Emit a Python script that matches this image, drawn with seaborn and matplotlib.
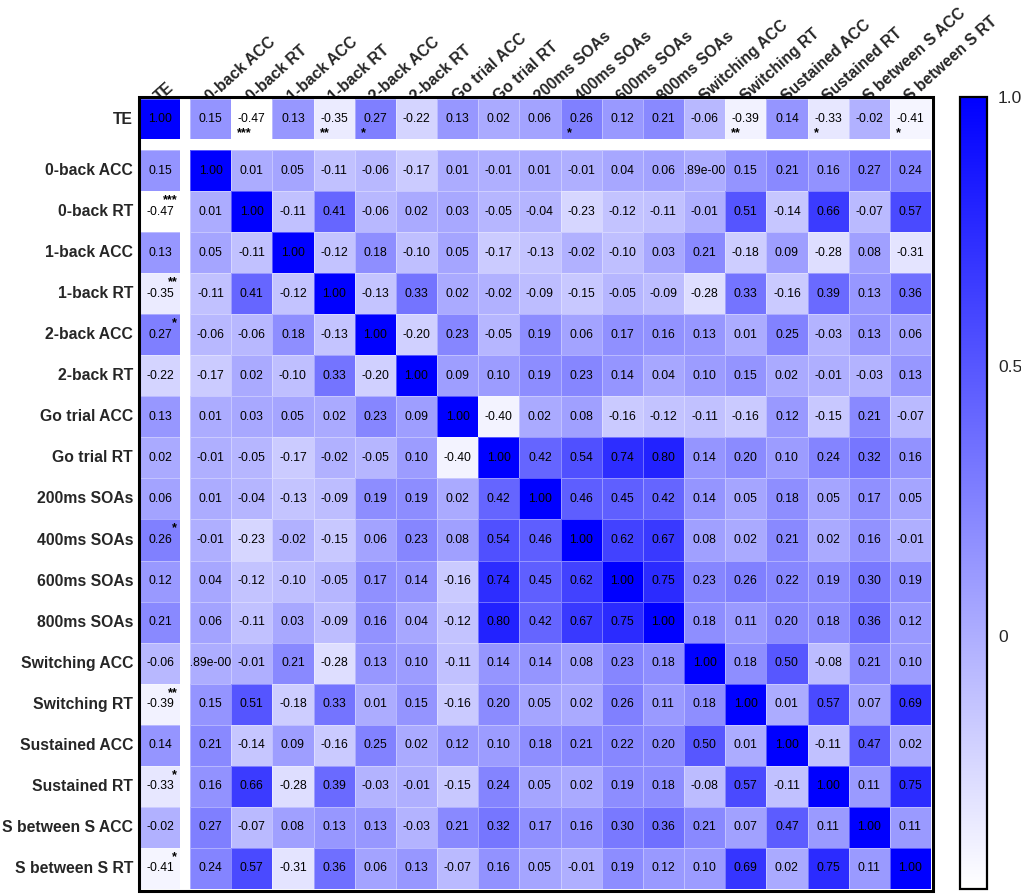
import numpy as np
import matplotlib
matplotlib.use("Agg")
import matplotlib.pyplot as plt
import seaborn as sns
from matplotlib.colors import LinearSegmentedColormap
from matplotlib.patches import Rectangle
from matplotlib.transforms import Bbox, TransformedBbox

labels = [
    "TE", "0-back ACC", "0-back RT", "1-back ACC", "1-back RT", "2-back ACC",
    "2-back RT", "Go trial ACC", "Go trial RT", "200ms SOAs", "400ms SOAs",
    "600ms SOAs", "800ms SOAs", "Switching ACC", "Switching RT",
    "Sustained ACC", "Sustained RT", "S between S ACC", "S between S RT",
]

# one list per row of the correlation matrix
r_te = [1.00, 0.15, -0.47, 0.13, -0.35, 0.27, -0.22, 0.13, 0.02, 0.06, 0.26, 0.12, 0.21, -0.06, -0.39, 0.14, -0.33, -0.02, -0.41]
r_0acc = [0.15, 1.00, 0.01, 0.05, -0.11, -0.06, -0.17, 0.01, -0.01, 0.01, -0.01, 0.04, 0.06, 0.00289, 0.15, 0.21, 0.16, 0.27, 0.24]
r_0rt = [-0.47, 0.01, 1.00, -0.11, 0.41, -0.06, 0.02, 0.03, -0.05, -0.04, -0.23, -0.12, -0.11, -0.01, 0.51, -0.14, 0.66, -0.07, 0.57]
r_1acc = [0.13, 0.05, -0.11, 1.00, -0.12, 0.18, -0.10, 0.05, -0.17, -0.13, -0.02, -0.10, 0.03, 0.21, -0.18, 0.09, -0.28, 0.08, -0.31]
r_1rt = [-0.35, -0.11, 0.41, -0.12, 1.00, -0.13, 0.33, 0.02, -0.02, -0.09, -0.15, -0.05, -0.09, -0.28, 0.33, -0.16, 0.39, 0.13, 0.36]
r_2acc = [0.27, -0.06, -0.06, 0.18, -0.13, 1.00, -0.20, 0.23, -0.05, 0.19, 0.06, 0.17, 0.16, 0.13, 0.01, 0.25, -0.03, 0.13, 0.06]
r_2rt = [-0.22, -0.17, 0.02, -0.10, 0.33, -0.20, 1.00, 0.09, 0.10, 0.19, 0.23, 0.14, 0.04, 0.10, 0.15, 0.02, -0.01, -0.03, 0.13]
r_goacc = [0.13, 0.01, 0.03, 0.05, 0.02, 0.23, 0.09, 1.00, -0.40, 0.02, 0.08, -0.16, -0.12, -0.11, -0.16, 0.12, -0.15, 0.21, -0.07]
r_gort = [0.02, -0.01, -0.05, -0.17, -0.02, -0.05, 0.10, -0.40, 1.00, 0.42, 0.54, 0.74, 0.80, 0.14, 0.20, 0.10, 0.24, 0.32, 0.16]
r_200 = [0.06, 0.01, -0.04, -0.13, -0.09, 0.19, 0.19, 0.02, 0.42, 1.00, 0.46, 0.45, 0.42, 0.14, 0.05, 0.18, 0.05, 0.17, 0.05]
r_400 = [0.26, -0.01, -0.23, -0.02, -0.15, 0.06, 0.23, 0.08, 0.54, 0.46, 1.00, 0.62, 0.67, 0.08, 0.02, 0.21, 0.02, 0.16, -0.01]
r_600 = [0.12, 0.04, -0.12, -0.10, -0.05, 0.17, 0.14, -0.16, 0.74, 0.45, 0.62, 1.00, 0.75, 0.23, 0.26, 0.22, 0.19, 0.30, 0.19]
r_800 = [0.21, 0.06, -0.11, 0.03, -0.09, 0.16, 0.04, -0.12, 0.80, 0.42, 0.67, 0.75, 1.00, 0.18, 0.11, 0.20, 0.18, 0.36, 0.12]
r_swacc = [-0.06, 0.00289, -0.01, 0.21, -0.28, 0.13, 0.10, -0.11, 0.14, 0.14, 0.08, 0.23, 0.18, 1.00, 0.18, 0.50, -0.08, 0.21, 0.10]
r_swrt = [-0.39, 0.15, 0.51, -0.18, 0.33, 0.01, 0.15, -0.16, 0.20, 0.05, 0.02, 0.26, 0.11, 0.18, 1.00, 0.01, 0.57, 0.07, 0.69]
r_suacc = [0.14, 0.21, -0.14, 0.09, -0.16, 0.25, 0.02, 0.12, 0.10, 0.18, 0.21, 0.22, 0.20, 0.50, 0.01, 1.00, -0.11, 0.47, 0.02]
r_surt = [-0.33, 0.16, 0.66, -0.28, 0.39, -0.03, -0.01, -0.15, 0.24, 0.05, 0.02, 0.19, 0.18, -0.08, 0.57, -0.11, 1.00, 0.11, 0.75]
r_sbacc = [-0.02, 0.27, -0.07, 0.08, 0.13, 0.13, -0.03, 0.21, 0.32, 0.17, 0.16, 0.30, 0.36, 0.21, 0.07, 0.47, 0.11, 1.00, 0.11]
r_sbrt = [-0.41, 0.24, 0.57, -0.31, 0.36, 0.06, 0.13, -0.07, 0.16, 0.05, -0.01, 0.19, 0.12, 0.10, 0.69, 0.02, 0.75, 0.11, 1.00]

# significance of the correlation with TE
te_stars = ["", "", "***", "", "**", "*", "", "", "", "", "*", "", "", "", "**", "", "*", "", "*"]

corr = np.array([r_te, r_0acc, r_0rt, r_1acc, r_1rt, r_2acc, r_2rt, r_goacc, r_gort,
                 r_200, r_400, r_600, r_800, r_swacc, r_swrt, r_suacc, r_surt,
                 r_sbacc, r_sbrt])


def fmt_val(v):
    if v != 0 and abs(v) < 0.005:
        m, e = f"{v:.2e}".split("e")
        return f"{m}e{e[0]}{int(e[1:]):03d}"
    return f"{v:.2f}"


annot = np.vectorize(fmt_val)(corr)

sns.set_style("white")
plt.rcParams["font.family"] = ["Liberation Sans", "DejaVu Sans"]

cmap = LinearSegmentedColormap.from_list("white_blue", ["#ffffff", "#0000ff"])
vmin, vmax = -0.47, 1.0

W, H = 1021, 896
fig = plt.figure(figsize=(W / 100, H / 100), dpi=100)


def px_axes(x0, y0, x1, y1):
    return fig.add_axes([x0 / W, 1 - y1 / H, (x1 - x0) / W, (y1 - y0) / H])


ax_cc = px_axes(140, 99, 180, 139)
ax_row = px_axes(190, 99, 931, 139)
ax_col = px_axes(140, 150, 180, 889)
ax_main = px_axes(190, 150, 931, 889)
cax = px_axes(960, 97, 987, 889)

common = dict(cmap=cmap, vmin=vmin, vmax=vmax, fmt="", linewidths=0.4,
              linecolor=(1, 1, 1, 0.35),
              annot_kws={"fontsize": 8.7, "color": "black"})

sns.heatmap(corr[:1, :1], ax=ax_cc, annot=annot[:1, :1], cbar=False,
            xticklabels=["TE"], yticklabels=["TE"], **common)
sns.heatmap(corr[:1, 1:], ax=ax_row, annot=annot[:1, 1:], cbar=False,
            xticklabels=labels[1:], yticklabels=False, **common)
sns.heatmap(corr[1:, :1], ax=ax_col, annot=annot[1:, :1], cbar=False,
            xticklabels=False, yticklabels=labels[1:], **common)
sns.heatmap(corr[1:, 1:], ax=ax_main, annot=annot[1:, 1:], cbar=True,
            cbar_ax=cax, xticklabels=False, yticklabels=False, **common)

# clip long annotations to their cell
for t in ax_main.texts:
    x, y = t.get_position()
    box = Bbox([[x - 0.5, y - 0.5], [x + 0.5, y + 0.5]])
    t.set_clip_box(TransformedBbox(box, ax_main.transData))
    t.set_clip_on(True)

# stars for TE correlations
for j, s in enumerate(te_stars[1:]):
    if s:
        ax_row.text(j + 0.15, 0.86, s, ha="left", va="center", fontsize=9,
                    fontweight="bold", color="black")
        ax_col.text(0.93, j + 0.22, s, ha="right", va="center", fontsize=9,
                    fontweight="bold", color="black")

for ax in (ax_cc, ax_row):
    ax.xaxis.tick_top()
    ax.tick_params(axis="x", length=0, pad=-2)
    for lab in ax.get_xticklabels():
        lab.set_rotation(42)
        lab.set_ha("left")
        lab.set_va("baseline")
        lab.set_rotation_mode("anchor")
        lab.set_fontweight("bold")
        lab.set_fontsize(11.3)

for ax in (ax_cc, ax_col):
    ax.tick_params(axis="y", length=0, pad=5)
    for lab in ax.get_yticklabels():
        lab.set_rotation(0)
        lab.set_fontweight("bold")
        lab.set_fontsize(11.3)

# thick frame around the whole matrix
fig.add_artist(Rectangle((138.5 / W, 1 - 890.5 / H), (932.5 - 138.5) / W,
                         (890.5 - 97.5) / H, transform=fig.transFigure,
                         fill=False, ec="black", lw=2.2, zorder=10))

cbar = ax_main.collections[0].colorbar
cbar.outline.set_linewidth(1.6)
cbar.outline.set_edgecolor("black")
cbar.set_ticks([0, 0.5, 1.0])
cbar.set_ticklabels(["0", "0.5", "1.0"])
cax.tick_params(direction="in", length=5, width=1, left=True, right=True,
                labelsize=12.5, pad=8)

fig.savefig("out.png", dpi=100)
